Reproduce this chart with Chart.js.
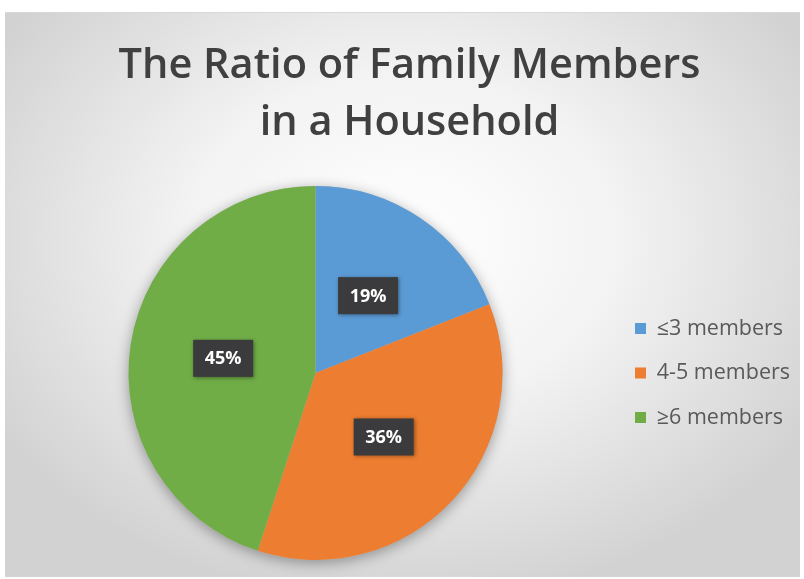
<!DOCTYPE html>
<html>
<head>
<meta charset="utf-8">
<script src="https://cdn.jsdelivr.net/npm/chart.js@4.4.0/dist/chart.umd.min.js"></script>
<style>
  html, body { margin: 0; padding: 0; background: #ffffff; }
  #frame {
    position: absolute; left: 5px; top: 12px; width: 795px; height: 564px;
    background: radial-gradient(ellipse 60% 65% at 50% 40%, #ffffff 0%, #f3f3f3 45%, #d2d2d2 100%);
    border-top: 1px solid #d8d8d8;
  }
</style>
</head>
<body>
<div id="frame"><canvas id="chart" width="795" height="564"></canvas></div>
<script>
const categories = ['≤3 members', '4-5 members', '≥6 members'];
const shares = [19, 36, 45];
const colors = ['#5B9BD5', '#ED7D31', '#70AD47'];
const titleLines = ['The Ratio of Family Members', 'in a Household'];

// soft shadow under the pie
const pieShadow = {
  id: 'pieShadow',
  beforeDatasetsDraw(chart) {
    const arc = chart.getDatasetMeta(0).data[0];
    if (!arc) return;
    const ctx = chart.ctx;
    ctx.save();
    ctx.shadowColor = 'rgba(0,0,0,0.35)';
    ctx.shadowBlur = 14;
    ctx.shadowOffsetY = 3;
    ctx.fillStyle = '#bbbbbb';
    ctx.beginPath();
    ctx.arc(arc.x, arc.y, arc.outerRadius, 0, Math.PI * 2);
    ctx.fill();
    ctx.restore();
  }
};

// dark boxes with the percentage
const boxLabels = {
  id: 'boxLabels',
  afterDatasetsDraw(chart) {
    const ctx = chart.ctx;
    const meta = chart.getDatasetMeta(0);
    meta.data.forEach((arc, i) => {
      const p = arc.getCenterPoint();
      const w = 60, h = 37;
      ctx.save();
      ctx.shadowColor = 'rgba(0,0,0,0.4)';
      ctx.shadowBlur = 4;
      ctx.shadowOffsetX = 1;
      ctx.shadowOffsetY = 1;
      ctx.fillStyle = '#3b3b3d';
      ctx.fillRect(p.x - w / 2, p.y - h / 2, w, h);
      ctx.restore();
      ctx.save();
      ctx.fillStyle = '#ffffff';
      ctx.font = 'bold 18px "Open Sans"';
      ctx.textAlign = 'center';
      ctx.textBaseline = 'middle';
      ctx.fillText(shares[i] + '%', p.x, p.y + 1);
      ctx.restore();
    });
  }
};

new Chart(document.getElementById('chart'), {
  type: 'pie',
  data: {
    labels: categories,
    datasets: [{
      data: shares,
      backgroundColor: colors,
      borderWidth: 0
    }]
  },
  options: {
    responsive: false,
    animation: false,
    layout: { padding: { left: 14, right: 0, top: 0, bottom: 17 } },
    plugins: {
      title: {
        display: true,
        text: titleLines,
        color: '#404040',
        font: { family: '"Open Sans"', size: 41.5, weight: '600', lineHeight: 1.373 },
        padding: { top: 25, bottom: 34 }
      },
      legend: {
        position: 'right',
        fullSize: false,
        labels: {
          color: '#595959',
          font: { family: '"Open Sans"', size: 21.5 },
          boxWidth: 11,
          boxHeight: 11,
          padding: 23
        }
      },
      tooltip: { enabled: false }
    }
  },
  plugins: [pieShadow, boxLabels]
});
</script>
</body>
</html>
